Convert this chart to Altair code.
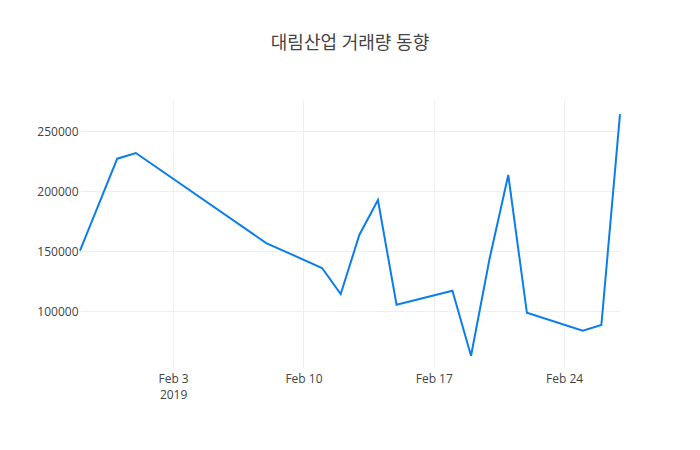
import altair as alt
import pandas as pd

dates = ["2019-01-29", "2019-01-31", "2019-02-01", "2019-02-08", "2019-02-11",
         "2019-02-12", "2019-02-13", "2019-02-14", "2019-02-15", "2019-02-18",
         "2019-02-19", "2019-02-20", "2019-02-21", "2019-02-22", "2019-02-25",
         "2019-02-26", "2019-02-27"]
volumes = [150500, 227200, 231900, 156900, 136100,
           114400, 163600, 192700, 105500, 117200,
           63000, 144200, 213600, 98800, 83800,
           88600, 264400]
tick_dates = [(2019, 2, 3), (2019, 2, 10), (2019, 2, 17), (2019, 2, 24)]
y_ticks = [100000, 150000, 200000, 250000]
title_text = "대림산업 거래량 동향"

df = pd.DataFrame({"date": [d + "T00:00:00" for d in dates], "volume": volumes})

font = "Open Sans, Noto Sans CJK KR, sans-serif"

chart = alt.Chart(df).mark_line(color="#0b7ee8", strokeWidth=2).encode(
    x=alt.X("date:T",
            scale=alt.Scale(domain=[alt.DateTime(year=2019, month=1, date=29),
                                    alt.DateTime(year=2019, month=2, date=27)],
                            nice=False),
            axis=alt.Axis(title=None,
                          values=[alt.DateTime(year=y, month=m, date=d) for y, m, d in tick_dates],
                          labelExpr="date(datum.value)==3 ? [timeFormat(datum.value, '%b %-d'), '2019'] : timeFormat(datum.value, '%b %-d')",
                          labelPadding=6, labelLineHeight=16,
                          ticks=False, domain=False,
                          gridColor="#eeeeee", labelColor="#444444",
                          labelFontSize=12, labelFont=font)),
    y=alt.Y("volume:Q",
            scale=alt.Scale(domain=[53600, 276100], nice=False, zero=False),
            axis=alt.Axis(title=None, values=y_ticks, format="d",
                          ticks=False, domain=False, labelPadding=2,
                          gridColor="#eeeeee", labelColor="#444444",
                          labelFontSize=12, labelFont=font)),
).properties(
    width=540, height=267,
    title=alt.TitleParams(title_text, fontSize=18, color="#444444", font=font,
                          fontWeight="normal", anchor="middle", offset=47),
    padding={"left": 72, "top": 92, "right": 72, "bottom": 60},
    autosize=alt.AutoSizeParams(type="none"),
).configure_view(stroke=None)

chart.save("out.html", embed_options={"renderer": "svg", "actions": False})
